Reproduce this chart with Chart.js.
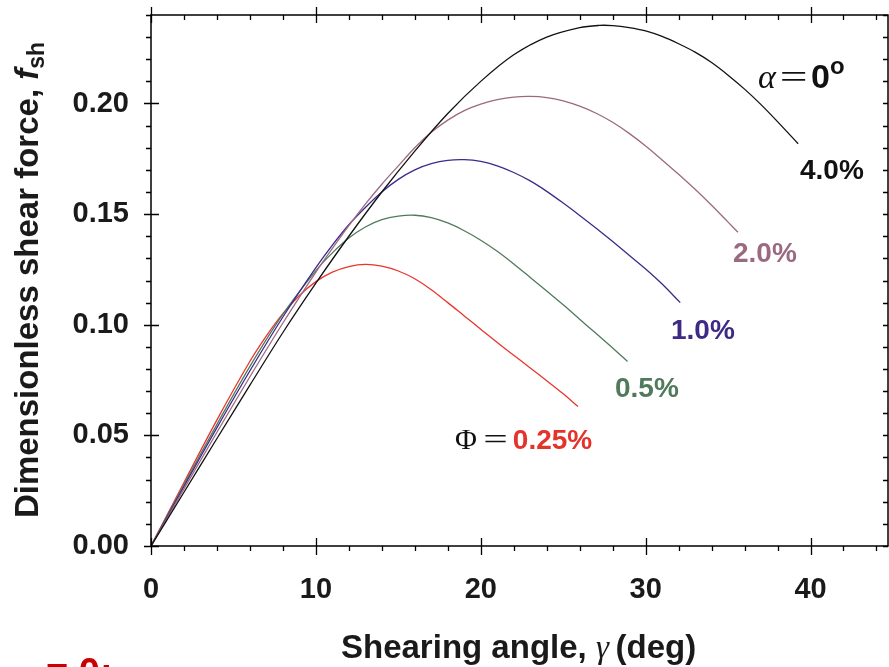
<!DOCTYPE html>
<html>
<head>
<meta charset="utf-8">
<script src="https://cdn.jsdelivr.net/npm/chart.js@4.4.0/dist/chart.umd.min.js"></script>
<style>
  html, body { margin: 0; padding: 0; background: #fff; overflow: hidden; }
  #wrap { position: relative; width: 889px; height: 667px; overflow: hidden; }
  canvas { position: absolute; left: 0; top: 0; }
  .t { position: absolute; white-space: nowrap; line-height: 1; font-family: "Liberation Sans", Arial, sans-serif; font-weight: bold; }
  .serif { font-family: "Liberation Serif", "Times New Roman", serif; font-weight: normal; }
</style>
</head>
<body>
<div id="wrap">
  <canvas id="c" width="889" height="667"></canvas>
  <div class="t" style="left:0;top:0;width:62px;height:567px;">
    <div class="t" style="left:29px;top:280px;font-size:33px;color:#1a1a1a;transform:translate(-50%,-50%) rotate(-90deg);">Dimensionless shear force, <i>f</i><sub style="font-size:23px;vertical-align:-6px;">sh</sub></div>
  </div>
  <div class="t" style="left:341px;top:630px;font-size:33px;color:#1a1a1a;">Shearing angle, <span class="serif" style="font-style:italic;">&gamma;</span>&thinsp;(deg)</div>
  <div class="t" style="left:46px;top:653px;font-size:38px;color:#cc0000;">= 0;</div>

  <div class="t" style="left:758px;top:54px;font-size:34px;color:#111;"><span class="serif" style="font-style:italic;">&alpha;</span><span class="serif" style="display:inline-block;transform:scaleX(1.45);margin:0 8px;">=</span>0<span style="font-size:24px;vertical-align:14px;">o</span></div>
  <div class="t" style="left:800px;top:156px;font-size:28px;color:#111;">4.0%</div>
  <div class="t" style="left:733px;top:239px;font-size:28px;color:#9a6a80;">2.0%</div>
  <div class="t" style="left:671px;top:316px;font-size:28px;color:#3e2a86;">1.0%</div>
  <div class="t" style="left:615px;top:374px;font-size:28px;color:#4f7a5c;">0.5%</div>
  <div class="t" style="left:455px;top:424px;font-size:28px;color:#111;"><span class="serif" style="font-size:30px;">&Phi;</span><span class="serif" style="display:inline-block;transform:scaleX(1.45);margin:0 9px 0 10px;font-size:30px;">=</span><span style="color:#e3332b;">0.25%</span></div>
</div>
<script>
// ---- Data ----
const gammaBlack = [0,2,4,6,8,10,12,14,16,18,20,22,24,26,27.2,28,29,30,31,32,33,34,35,36,37,38,39.25];
const fBlack     = [0,0.0243,0.0486,0.0727,0.0965,0.1188,0.1400,0.1600,0.1785,0.1955,0.2100,0.2220,0.2300,0.2343,0.2353,0.2352,0.2343,0.2328,0.2303,0.2270,0.2232,0.2185,0.2128,0.2065,0.1995,0.1918,0.1818];

const gammaMauve = [0,2,4,6,8,10,11,12,13,14,15,16,17,18,19,20,21,22,23,24,25,26,27,28,29,30,31,32,33,34,35,35.6];
const fMauve     = [0,0.0258,0.0514,0.0765,0.1008,0.1238,0.1345,0.1448,0.1545,0.1635,0.1718,0.1800,0.1870,0.1925,0.1968,0.1997,0.2017,0.2029,0.2032,0.2027,0.2012,0.1988,0.1956,0.1915,0.1865,0.1808,0.1745,0.1680,0.1612,0.1540,0.1464,0.1418];

const gammaBlue  = [0,2,4,6,8,10,11,12,13,14,15,16,17,18,19,20,21,22,23,24,25,26,27,28,29,30,31,32.1];
const fBlue      = [0,0.0269,0.0535,0.0792,0.1035,0.1258,0.1360,0.1452,0.1530,0.1600,0.1657,0.1700,0.1728,0.1743,0.1746,0.1738,0.1718,0.1688,0.1650,0.1603,0.1550,0.1494,0.1436,0.1376,0.1314,0.1252,0.1184,0.1100];

const gammaGreen = [0,2,4,6,8,10,11,12,13,14,15,16,17,18,19,20,21,22,23,24,25,26,27,28,28.9];
const fGreen     = [0,0.0277,0.0550,0.0812,0.1048,0.1245,0.1325,0.1392,0.1442,0.1475,0.1491,0.1495,0.1484,0.1460,0.1425,0.1382,0.1332,0.1275,0.1214,0.1152,0.1090,0.1025,0.0960,0.0895,0.0834];

const gammaRed   = [0,2,4,6,7,8,9,10,11,12,13,14,15,16,17,18,19,20,21,22,23,24,25,25.9];
const fRed       = [0,0.0287,0.0570,0.0835,0.0950,0.1050,0.1132,0.1195,0.1238,0.1263,0.1273,0.1265,0.1243,0.1208,0.1158,0.1100,0.1040,0.0980,0.0920,0.0862,0.0805,0.0747,0.0688,0.0630];

const seriesNames = ['4.0%','2.0%','1.0%','0.5%','0.25%'];
const xTickLabels = [0,10,20,30,40];
const yTickLabels = [0.00,0.05,0.10,0.15,0.20];

// ---- Build datasets ----
function pts(g, f) { return g.map((v, i) => ({ x: v, y: f[i] })); }
const colors = ['#111111', '#9c6a80', '#3c2a8c', '#4e7b5c', '#e8352e'];
const raw = [[gammaBlack, fBlack],[gammaMauve, fMauve],[gammaBlue, fBlue],[gammaGreen, fGreen],[gammaRed, fRed]];
const datasets = raw.map((r, i) => ({
  label: seriesNames[i],
  data: pts(r[0], r[1]),
  borderColor: colors[i],
  borderWidth: 1.3,
  pointRadius: 0,
  fill: false,
  tension: 0.35
}));

const X_MAX = 44.7, Y_MAX = 0.24;
const xMinor = []; for (let v = 0; v <= 44; v += 2) xMinor.push(v);
const yMinor = []; for (let k = 0; k <= 24; k++) yMinor.push(k / 100);

const framePlugin = {
  id: 'frame',
  afterDraw(chart) {
    const { ctx, chartArea: a, scales } = chart;
    const xs = scales.x, ys = scales.y;
    ctx.save();
    ctx.strokeStyle = '#000';
    ctx.lineWidth = 1.5;
    ctx.strokeRect(a.left, a.top, a.right - a.left, a.bottom - a.top);
    ctx.beginPath();
    xMinor.forEach(v => {
      const px = Math.round(xs.getPixelForValue(v)) + 0.5;
      const major = xTickLabels.includes(v);
      if (major) {
        ctx.moveTo(px, a.bottom - 8); ctx.lineTo(px, a.bottom + 9);
        ctx.moveTo(px, a.top - 8); ctx.lineTo(px, a.top + 8);
      } else {
        ctx.moveTo(px, a.bottom); ctx.lineTo(px, a.bottom + 5);
        ctx.moveTo(px, a.top); ctx.lineTo(px, a.top + 5);
      }
    });
    yMinor.forEach(v => {
      const py = Math.round(ys.getPixelForValue(v)) + 0.5;
      const major = yTickLabels.some(t => Math.abs(t - v) < 1e-9);
      if (major) {
        ctx.moveTo(a.left - 7, py); ctx.lineTo(a.left + 8, py);
      } else {
        ctx.moveTo(a.left - 5, py); ctx.lineTo(a.left, py);
      }
      ctx.moveTo(a.right - 5, py); ctx.lineTo(a.right, py);
    });
    ctx.lineWidth = 1.3;
    ctx.stroke();
    ctx.restore();
  }
};

new Chart(document.getElementById('c'), {
  type: 'line',
  data: { datasets },
  options: {
    responsive: false,
    animation: false,
    events: [],
    layout: { padding: { top: 15, right: 1, left: 0, bottom: 0 } },
    plugins: { legend: { display: false }, tooltip: { enabled: false } },
    scales: {
      x: {
        type: 'linear', min: 0, max: X_MAX,
        grid: { display: false, drawTicks: false },
        border: { display: false },
        afterFit(s) { s.height = 121; s.paddingLeft = 0; s.paddingRight = 0; },
        afterBuildTicks(s) { s.ticks = xTickLabels.map(v => ({ value: v })); },
        ticks: { padding: 27, color: '#1a1a1a', font: { family: 'Liberation Sans, Arial', size: 29, weight: 'bold' }, callback: v => String(v) }
      },
      y: {
        type: 'linear', min: 0, max: Y_MAX,
        grid: { display: false, drawTicks: false },
        border: { display: false },
        afterFit(s) { s.width = 151; s.paddingTop = 0; s.paddingBottom = 0; },
        afterBuildTicks(s) { s.ticks = yTickLabels.map(v => ({ value: v })); },
        ticks: { padding: 22, color: '#1a1a1a', font: { family: 'Liberation Sans, Arial', size: 29, weight: 'bold' }, callback: v => Number(v).toFixed(2) }
      }
    }
  },
  plugins: [framePlugin]
});
</script>
</body>
</html>
